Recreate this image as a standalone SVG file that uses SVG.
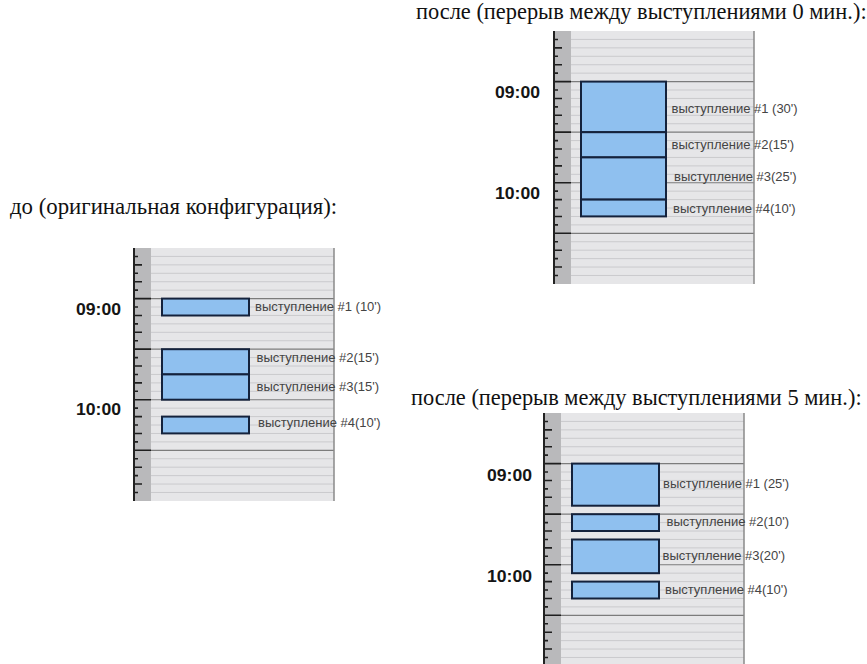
<svg xmlns="http://www.w3.org/2000/svg" xmlns:xlink="http://www.w3.org/1999/xlink" width="867" height="664" viewBox="0 0 867 664">
<style>
.hd{font-family:"Liberation Serif","Times New Roman",serif;font-size:22.4px;fill:#111}
.tm{font-family:"Liberation Sans Narrow","Liberation Sans",Arial,sans-serif;font-weight:bold;font-size:17px;fill:#151515}
.lb{font-family:"Liberation Sans",Arial,sans-serif;font-size:13px;fill:#444}
.bx{fill:#8fc0ef;stroke:#14223c;stroke-width:2}
.lt{stroke:#cacacd;stroke-width:1;fill:none}
.dk{stroke:#7c7c7c;stroke-width:1.2;fill:none}
.tk{stroke:#1e1e1e;stroke-width:1.6;fill:none}
</style>
<defs>
<g id="grid">
<rect x="0" y="0" width="201" height="253" fill="#e6e6e8"/>
<rect x="0" y="0" width="18" height="253" fill="#b9b9bb"/>
<path class="lt" d="M18 8.43H201M18 16.86H201M18 25.29H201M18 33.72H201M18 42.15H201M18 59.01H201M18 67.44H201M18 75.87H201M18 84.3H201M18 92.73H201M18 109.59H201M18 118.02H201M18 126.45H201M18 134.88H201M18 143.31H201M18 160.17H201M18 168.6H201M18 177.03H201M18 185.46H201M18 193.89H201M18 210.75H201M18 219.18H201M18 227.61H201M18 236.04H201M18 244.47H201"/>
<path class="dk" d="M18 50.58H201M18 101.16H201M18 151.74H201M18 202.32H201"/>
<path class="tk" d="M0 8.43H5M0 16.86H9M0 25.29H5M0 33.72H9M0 42.15H5M0 50.58H18M0 59.01H5M0 67.44H9M0 75.87H5M0 84.3H9M0 92.73H5M0 101.16H18M0 109.59H5M0 118.02H9M0 126.45H5M0 134.88H9M0 143.31H5M0 151.74H18M0 160.17H5M0 168.6H9M0 177.03H5M0 185.46H9M0 193.89H5M0 202.32H18M0 210.75H5M0 219.18H9M0 227.61H5M0 236.04H9M0 244.47H5"/>
<path d="M1 0V253" stroke="#222" stroke-width="2"/>
<path d="M201 0V253" stroke="#8a8a8a" stroke-width="1.5"/>
</g>
</defs>
<rect width="867" height="664" fill="#fff"/>

<g id="heading-before"><text class="hd" x="10" y="214" style="font-size:22.8px">до (оригинальная конфигурация):</text></g>
<g id="heading-after0"><text class="hd" x="416" y="19">после (перерыв между выступлениями 0 мин.):</text></g>
<g id="heading-after5"><text class="hd" x="411" y="405">после (перерыв между выступлениями 5 мин.):</text></g>

<g id="panel-before">
<use xlink:href="#grid" href="#grid" transform="translate(133,248)"/>
<text class="tm" x="76" y="315" textLength="45" lengthAdjust="spacingAndGlyphs">09:00</text>
<text class="tm" x="76" y="415" textLength="45" lengthAdjust="spacingAndGlyphs">10:00</text>
<rect class="bx" x="162" y="298.6" width="87" height="16.9"/>
<rect class="bx" x="162" y="349.2" width="87" height="25.2"/>
<rect class="bx" x="162" y="374.4" width="87" height="25.3"/>
<rect class="bx" x="162" y="416.6" width="87" height="16.8"/>
<text class="lb" x="255" y="311">выступление #1 (10')</text>
<text class="lb" x="256.5" y="361.5">выступление #2(15')</text>
<text class="lb" x="256.5" y="391">выступление #3(15')</text>
<text class="lb" x="258" y="427">выступление #4(10')</text>
</g>

<g id="panel-after0">
<use xlink:href="#grid" href="#grid" transform="translate(553,31)"/>
<text class="tm" x="495" y="98" textLength="45" lengthAdjust="spacingAndGlyphs">09:00</text>
<text class="tm" x="495" y="199" textLength="45" lengthAdjust="spacingAndGlyphs">10:00</text>
<rect class="bx" x="581" y="81.6" width="85" height="50.6"/>
<rect class="bx" x="581" y="132.2" width="85" height="25.2"/>
<rect class="bx" x="581" y="157.4" width="85" height="42.2"/>
<rect class="bx" x="581" y="199.6" width="85" height="16.8"/>
<text class="lb" x="671.5" y="113">выступление #1 (30')</text>
<text class="lb" x="671.5" y="148.5">выступление #2(15')</text>
<text class="lb" x="674" y="181">выступление #3(25')</text>
<text class="lb" x="673" y="213">выступление #4(10')</text>
</g>

<g id="panel-after5">
<use xlink:href="#grid" href="#grid" transform="translate(543,413)"/>
<text class="tm" x="487" y="481" textLength="45" lengthAdjust="spacingAndGlyphs">09:00</text>
<text class="tm" x="487" y="582" textLength="45" lengthAdjust="spacingAndGlyphs">10:00</text>
<rect class="bx" x="572" y="463.6" width="87" height="42.1"/>
<rect class="bx" x="572" y="514.2" width="87" height="16.8"/>
<rect class="bx" x="572" y="539.5" width="87" height="33.7"/>
<rect class="bx" x="572" y="581.6" width="87" height="16.9"/>
<text class="lb" x="663" y="488">выступление #1 (25')</text>
<text class="lb" x="666.5" y="525.5">выступление #2(10')</text>
<text class="lb" x="662.5" y="560">выступление #3(20')</text>
<text class="lb" x="665" y="594">выступление #4(10')</text>
</g>
</svg>
